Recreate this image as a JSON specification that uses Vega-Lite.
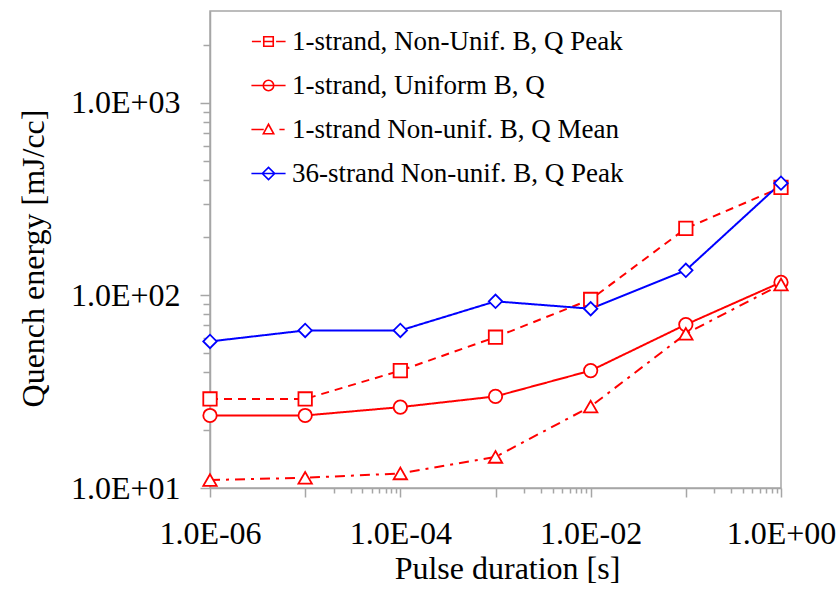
{
  "$schema": "https://vega.github.io/schema/vega-lite/v6.json",
  "width": 571,
  "height": 477,
  "autosize": {"type": "none"},
  "padding": {"left": 210, "top": 11, "right": 58, "bottom": 105},
  "background": "white",
  "config": {
    "view": {"stroke": "#a6a6a6", "strokeWidth": 1.5},
    "axis": {
      "labelFont": "Liberation Serif", "labelFontSize": 32, "labelColor": "black",
      "titleFont": "Liberation Serif", "titleFontSize": 32, "titleFontWeight": "normal", "titleColor": "black",
      "domainColor": "#a6a6a6", "domainWidth": 1.5, "tickColor": "#a6a6a6", "tickWidth": 1.5,
      "grid": false, "labelOverlap": false, "labelFlush": false
    },
    "legend": {"labelFont": "Liberation Serif", "labelFontSize": 27, "labelColor": "black", "labelLimit": 600}
  },
  "data": {
    "values": [
      {"series": "1-strand, Non-Unif. B, Q Peak", "t": 0.000001, "e": 29},
      {"series": "1-strand, Non-Unif. B, Q Peak", "t": 0.00001, "e": 29},
      {"series": "1-strand, Non-Unif. B, Q Peak", "t": 0.0001, "e": 40.7},
      {"series": "1-strand, Non-Unif. B, Q Peak", "t": 0.001, "e": 60.7},
      {"series": "1-strand, Non-Unif. B, Q Peak", "t": 0.01, "e": 95.3},
      {"series": "1-strand, Non-Unif. B, Q Peak", "t": 0.1, "e": 223},
      {"series": "1-strand, Non-Unif. B, Q Peak", "t": 1, "e": 364},
      {"series": "1-strand, Uniform B, Q", "t": 0.000001, "e": 23.8},
      {"series": "1-strand, Uniform B, Q", "t": 0.00001, "e": 23.8},
      {"series": "1-strand, Uniform B, Q", "t": 0.0001, "e": 26.3},
      {"series": "1-strand, Uniform B, Q", "t": 0.001, "e": 29.9},
      {"series": "1-strand, Uniform B, Q", "t": 0.01, "e": 40.7},
      {"series": "1-strand, Uniform B, Q", "t": 0.1, "e": 70.6},
      {"series": "1-strand, Uniform B, Q", "t": 1, "e": 117},
      {"series": "1-strand Non-unif. B, Q Mean", "t": 0.000001, "e": 11.0},
      {"series": "1-strand Non-unif. B, Q Mean", "t": 0.00001, "e": 11.3},
      {"series": "1-strand Non-unif. B, Q Mean", "t": 0.0001, "e": 11.9},
      {"series": "1-strand Non-unif. B, Q Mean", "t": 0.001, "e": 14.5},
      {"series": "1-strand Non-unif. B, Q Mean", "t": 0.01, "e": 26.5},
      {"series": "1-strand Non-unif. B, Q Mean", "t": 0.1, "e": 63.2},
      {"series": "1-strand Non-unif. B, Q Mean", "t": 1, "e": 114},
      {"series": "36-strand Non-unif. B, Q Peak", "t": 0.000001, "e": 57.7},
      {"series": "36-strand Non-unif. B, Q Peak", "t": 0.00001, "e": 65.8},
      {"series": "36-strand Non-unif. B, Q Peak", "t": 0.0001, "e": 65.8},
      {"series": "36-strand Non-unif. B, Q Peak", "t": 0.001, "e": 93.2},
      {"series": "36-strand Non-unif. B, Q Peak", "t": 0.01, "e": 85.3},
      {"series": "36-strand Non-unif. B, Q Peak", "t": 0.1, "e": 135},
      {"series": "36-strand Non-unif. B, Q Peak", "t": 1, "e": 383}
    ]
  },
  "encoding": {
    "x": {
      "field": "t", "type": "quantitative",
      "scale": {"type": "log", "domain": [0.000001, 1], "nice": false},
      "axis": {
        "title": "Pulse duration [s]",
        "values": [0.000001, 0.00001, 0.00002, 0.00003, 0.00004, 0.00005, 0.00006, 0.00007, 0.00008, 0.00009, 0.0001, 0.001, 0.002, 0.003, 0.004, 0.005, 0.006, 0.007, 0.008, 0.009, 0.01, 0.1, 0.2, 0.3, 0.4, 0.5, 0.6, 0.7, 0.8, 0.9, 1],
        "labelExpr": "datum.value == 0.000001 ? '1.0E-06' : datum.value == 0.0001 ? '1.0E-04' : datum.value == 0.01 ? '1.0E-02' : datum.value == 1 ? '1.0E+00' : ''",
        "tickSize": {"condition": {"test": "datum.value == 0.000001 || datum.value == 0.00001 || datum.value == 0.0001 || datum.value == 0.001 || datum.value == 0.01 || datum.value == 0.1 || datum.value == 1", "value": 9}, "value": 5},
        "labelPadding": 21,
        "titleX": 297, "titleY": 80, "titleBaseline": "middle"
      }
    },
    "y": {
      "field": "e", "type": "quantitative",
      "scale": {"type": "log", "domain": [10, 3000], "nice": false},
      "axis": {
        "title": "Quench energy [mJ/cc]",
        "values": [10, 20, 30, 40, 50, 60, 70, 80, 90, 100, 200, 300, 400, 500, 600, 700, 800, 900, 1000, 2000],
        "labelExpr": "datum.value == 10 ? '1.0E+01' : datum.value == 100 ? '1.0E+02' : datum.value == 1000 ? '1.0E+03' : ''",
        "tickSize": {"condition": {"test": "datum.value == 10 || datum.value == 100 || datum.value == 1000", "value": 10}, "value": 7},
        "labelPadding": 20,
        "titleX": -177, "titleY": 247, "titleBaseline": "middle"
      }
    },
    "stroke": {
      "field": "series", "type": "nominal",
      "scale": {
        "domain": ["1-strand, Non-Unif. B, Q Peak", "1-strand, Uniform B, Q", "1-strand Non-unif. B, Q Mean", "36-strand Non-unif. B, Q Peak"],
        "range": ["#ff0000", "#ff0000", "#ff0000", "#0000ff"]
      },
      "legend": {
        "title": null, "orient": "none", "legendX": 45, "legendY": 17,
        "padding": 0, "symbolSize": 90, "labelOffset": 10, "rowPadding": 16,
        "symbolStrokeWidth": 1.6, "symbolFillColor": "white",
        "symbolType": {"expr": "datum.value == '1-strand, Non-Unif. B, Q Peak' ? 'M-3.5,0H-1.6M-1,-1H1V1H-1ZM-1,0H1M1.6,0H3.6' : datum.value == '1-strand, Uniform B, Q' ? 'M-3.6,0H3.6M1.1,0A1.1,1.1,0,1,1,-1.1,0A1.1,1.1,0,1,1,1.1,0Z' : datum.value == '1-strand Non-unif. B, Q Mean' ? 'M-3.6,0H-1M-1.1,0.9L0,-1.1L1.1,0.9ZM2.3,0H3.4' : 'M-3.6,0H3.6M0,-1.3L1.3,0L0,1.3L-1.3,0Z'"}
      }
    }
  },
  "layer": [
    {
      "mark": {"type": "line", "strokeWidth": 2},
      "encoding": {
        "strokeDash": {
          "field": "series", "type": "nominal",
          "scale": {"range": [[10, 6, 3, 6], [8, 6], [1, 0], [1, 0]]},
          "legend": null
        }
      }
    },
    {
      "mark": {"type": "point", "filled": false, "fill": "white", "size": 180, "strokeWidth": 1.8, "opacity": 1},
      "encoding": {
        "shape": {
          "field": "series", "type": "nominal",
          "scale": {"range": ["triangle-up", "square", "circle", "diamond"]},
          "legend": null
        }
      }
    }
  ]
}
